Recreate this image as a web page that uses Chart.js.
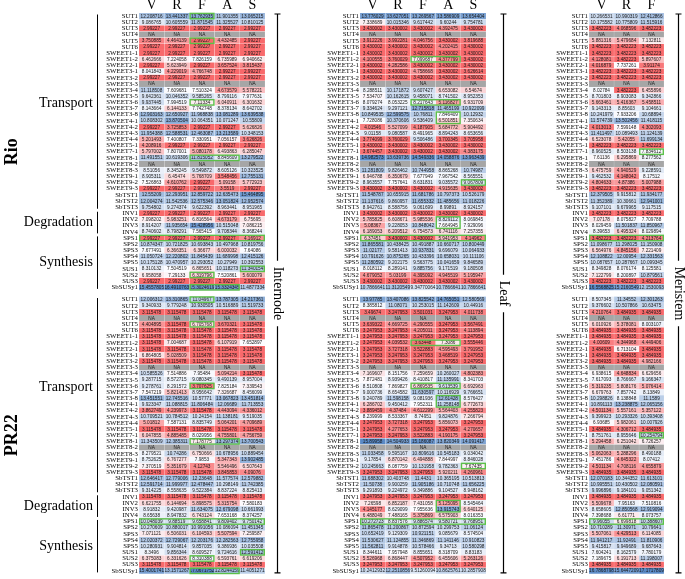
<!DOCTYPE html>
<html>
<head>
<meta charset="utf-8">
<script src="https://cdn.jsdelivr.net/npm/chart.js@4.4.0/dist/chart.umd.min.js"></script>
<style>
  body { margin: 0; background: #fff; width: 685px; height: 579px; overflow: hidden; position: relative; }
  canvas { position: absolute; top: 0; }
</style>
</head>
<body>
<canvas id="internode" width="295" height="579" style="left:0px"></canvas>
<canvas id="leaf" width="220" height="579" style="left:295px"></canvas>
<canvas id="meristem" width="170" height="579" style="left:515px"></canvas>
<script>
const genes = ["SUT1","SUT2","SUT3","SUT4","SUT5","SUT6","SWEET1-1","SWEET1-2","SWEET2-1","SWEET3-1","SWEET3-2","SWEET3-3","SWEET3-4","SWEET3-5","SWEET3-6","SWEET3-7","SWEET3-8","SWEET4-1","SWEET4-2","SWEET4-3","SWEET4-4","SWEET5-1","SWEET7-1","SWEET8-1","SWEET8-2","SWEET8-3","SWEET9-1","SWEET9-2","SWEET9-3","SbTST1","SbTST2","SbTST3","INV1","INV2","INV3","INV4","SPS1","SPS2","SPS3","SPS4","SPS5","SUS1","SUS2","SUS3","SbSUSy1"];
const cultivars = ["Rio", "PR22"];
const stages5 = ["V", "R", "F", "A", "S"];
const stages3 = ["V", "R", "F"];
const groups = [
  { name: "Transport", from: "SUT1", to: "SbTST3" },
  { name: "Degradation", from: "INV1", to: "INV4" },
  { name: "Synthesis", from: "SPS1", to: "SbSUSy1" }
];
const NA = null;

const internodeRio = [
  [12.208716,13.441337,13.762935,11.901355,13.065215],
  [9.086765,10.605559,11.871545,11.325527,10.810125],
  [2.99227,2.99227,2.99227,2.99227,2.99227],
  [NA,NA,NA,NA,NA],
  [3.750885,4.464139,2.99227,4.432485,2.99227],
  [2.99227,2.99227,2.99227,2.99227,2.99227],
  [2.99227,2.99227,2.99227,2.99227,2.99227],
  [6.462666,7.224058,7.826159,6.735989,6.940662],
  [2.99227,5.623949,2.99227,3.657524,3.815437],
  [8.041843,4.229019,4.766748,2.99227,2.99227],
  [2.99227,2.99227,2.99227,2.99227,2.99227],
  [NA,NA,NA,NA,NA],
  [11.118508,7.609681,7.510324,4.673579,5.578221],
  [9.642361,10.046352,9.585265,8.799116,7.977631],
  [9.937445,7.994519,7.11334,6.040911,6.301632],
  [8.143664,6.144133,7.742748,8.378134,8.642702],
  [12.903163,12.650927,11.968838,13.081289,13.639538],
  [10.808302,13.870504,10.064351,10.071247,10.55809],
  [2.99227,3.725853,2.99227,2.99227,5.626826],
  [11.954388,12.588531,12.463087,13.213589,10.348153],
  [5.201493,7.400807,7.330951,7.056157,3.626826],
  [4.208916,2.99227,2.99227,2.99227,2.99227],
  [5.797002,7.807001,5.080178,6.493863,6.285047],
  [11.491551,10.619306,11.815052,8.845609,13.279522],
  [NA,NA,NA,NA,NA],
  [8.51056,8.345245,9.549872,8.605126,10.323525],
  [8.905311,6.45474,5.768709,3.548456,12.755131],
  [7.526863,4.610762,2.99227,5.09158,5.772923],
  [2.99227,2.99227,2.99227,3.5519,2.99227],
  [12.55209,12.293951,12.859722,12.635473,15.464895],
  [12.004274,11.542536,12.575346,13.051824,12.952574],
  [9.754802,9.274374,9.622392,8.963441,8.951965],
  [2.99227,2.99227,2.99227,2.99227,2.99227],
  [7.098202,5.983251,6.816564,4.673179,6.75695],
  [8.914207,11.935654,15.428956,10.515048,7.086215],
  [8.740602,8.798291,7.565415,9.708344,8.368244],
  [2.99227,2.99227,2.99227,2.99227,4.16912],
  [10.874347,10.721825,10.693843,10.497968,10.819756],
  [7.677491,6.366351,6.36677,6.000032,7.64086],
  [11.050724,12.220802,11.845439,11.689998,12.415126],
  [10.175128,10.470957,10.293052,10.27949,10.392553],
  [8.310132,7.504519,6.865651,10.118273,11.340154],
  [6.958058,7.29133,6.319796,7.520861,5.600079],
  [2.99227,2.99227,2.99227,2.99227,2.99227],
  [15.4557805,16.4910763,15.3024619,15.3324345,11.4877334]
];

const internodePR22 = [
  [12.006312,13.310865,11.04967,13.787305,14.217361],
  [9.340933,9.779248,10.930505,10.516889,11.519733],
  [3.115478,3.115478,3.115478,3.115478,3.115478],
  [NA,NA,NA,NA,NA],
  [4.404895,3.115478,6.705768,3.670321,3.115478],
  [3.115478,3.115478,3.115478,3.115478,3.115478],
  [3.115478,3.115478,3.115478,3.115478,3.115478],
  [3.115478,7.004687,3.115478,6.107919,7.652897],
  [3.115478,3.115478,3.115478,3.115478,3.115478],
  [6.864805,5.028509,3.115478,3.115478,3.115478],
  [3.115478,3.115478,3.115478,3.115478,3.115478],
  [NA,NA,NA,NA,NA],
  [10.585526,7.514886,7.95484,5.094214,3.115478],
  [9.287715,8.572715,9.080345,9.490139,8.957004],
  [9.278761,8.291572,3.707625,7.825184,7.339543],
  [7.547219,5.821413,8.956642,7.326687,8.456099],
  [13.451551,12.745516,10.57771,13.067823,13.451814],
  [9.923347,11.088815,11.806484,12.06689,11.713553],
  [3.862749,4.239973,3.115478,4.443094,4.336012],
  [10.709521,10.784512,10.24154,11.138181,9.519035],
  [5.01812,7.587131,8.835749,5.064201,4.709689],
  [3.115478,3.115478,3.115478,3.115478,3.115478],
  [6.047855,4.885485,8.029956,4.755801,4.756759],
  [11.343509,12.385311,7.178775,13.297374,13.700543],
  [NA,NA,NA,NA,NA],
  [8.279521,10.74286,6.750666,10.678956,10.889454],
  [8.752625,6.767277,7.9853,5.347343,13.902485],
  [7.370519,5.351679,4.12743,5.546496,6.507643],
  [3.115478,3.115478,3.115478,3.845853,4.09076],
  [12.646417,12.779006,12.23648,11.577574,12.579882],
  [12.591714,11.999977,12.478447,10.298149,11.742385],
  [9.314225,8.558635,9.522384,8.837224,8.825413],
  [3.115478,3.115478,3.115478,3.115478,3.115478],
  [6.621755,6.144694,5.898575,5.315754,7.580183],
  [8.91832,9.420987,11.634075,12.679098,10.661993],
  [8.65638,8.947832,6.743124,7.653168,8.374257],
  [10.048039,9.88519,9.658841,9.809402,9.750142],
  [10.270609,10.880017,10.991056,10.086094,11.451345],
  [7.071121,6.506031,6.104593,5.507594,7.259587],
  [12.020372,12.729067,12.203176,12.282563,12.755958],
  [10.280931,9.904814,9.857035,9.386936,10.035508],
  [8.3496,9.856344,8.609527,9.724616,12.591412],
  [6.375083,6.331626,8.310388,6.593761,6.619206],
  [3.115478,3.115478,3.115478,3.115478,3.115478],
  [15.4001741,13.1571267,17.0671752,12.8244159,11.4051271]
];

const leafRio = [
  [13.776029,13.627051,13.269567,13.586909,13.654404],
  [7.338689,10.015346,9.617442,9.60244,9.754781],
  [3.430002,3.430002,3.430002,4.392475,3.430002],
  [NA,NA,NA,NA,NA],
  [3.912226,3.992281,4.046756,3.430002,3.819688],
  [3.430002,3.430002,3.430002,4.202415,3.430002],
  [3.430002,3.430002,3.430002,3.430002,3.430002],
  [4.100555,3.760029,7.099687,4.377799,3.430002],
  [3.430002,4.282586,3.430002,3.430002,3.430002],
  [3.430002,3.430002,4.758668,3.430002,3.626614],
  [3.430002,3.430002,3.430002,3.430002,3.430002],
  [NA,NA,NA,NA,NA],
  [8.288511,10.171872,9.607427,6.653082,6.54674],
  [7.534707,10.162615,9.458071,8.741502,8.952353],
  [8.079274,8.053225,8.217643,5.116827,6.931709],
  [9.334624,9.297121,12.715818,11.465199,10.922099],
  [10.849535,12.599575,10.76811,7.846409,10.12932],
  [7.728086,10.370606,9.536409,6.501851,7.350634],
  [4.01546,5.527099,4.187905,5.684772,5.904492],
  [9.01158,9.080587,8.491965,8.894243,8.653656],
  [3.774099,3.760029,9.506486,3.700345,3.705958],
  [3.430002,3.430002,3.430002,3.430002,3.430002],
  [3.674457,3.430002,3.430002,3.430002,4.383175],
  [14.982573,13.639736,14.549336,14.058876,13.963439],
  [NA,NA,NA,NA,NA],
  [11.281809,9.826462,10.744958,8.865268,10.74987],
  [6.946788,6.350679,7.677949,7.967542,8.565551],
  [8.963557,7.757641,8.631831,9.035572,9.067809],
  [3.430002,3.430002,3.430002,4.915635,3.430002],
  [11.548787,10.655915,11.681786,10.797373,10.526179],
  [11.137616,9.860957,11.655332,11.485656,11.018226],
  [8.942761,8.588756,9.061699,8.99891,8.924157],
  [3.430002,3.430002,3.430002,3.430002,3.430002],
  [5.785825,6.608671,5.985536,8.829112,8.069845],
  [5.08367,9.228053,10.848042,7.664945,7.929096],
  [6.189053,6.209512,6.754573,6.741116,7.257355],
  [6.37451,3.430002,3.430002,5.941953,4.14962],
  [11.865581,10.438425,10.491887,10.660717,10.800449],
  [11.02177,9.581413,10.937831,9.696079,10.064933],
  [10.791626,10.875265,10.433396,10.658031,10.111106],
  [11.280592,9.202175,9.563775,10.041659,9.846589],
  [8.018112,8.289141,9.885756,9.171519,9.180508],
  [4.679052,5.03199,4.395092,4.945519,5.195947],
  [3.430002,3.430002,3.430002,3.430002,3.430002],
  [10.7866641,11.3120549,9.34770064,10.7866641,10.7866641]
];

const leafPR22 = [
  [13.97785,13.407086,13.825542,14.765051,12.580569],
  [8.385812,11.08071,10.253015,11.142609,10.44916],
  [3.49674,3.247953,3.501031,3.247953,4.011738],
  [NA,NA,NA,NA,NA],
  [3.639322,4.669725,4.290555,3.247953,3.567491],
  [3.247953,3.247953,4.205011,3.247953,4.113894],
  [3.247953,3.247953,3.247953,3.247953,3.247953],
  [3.247953,4.039532,3.63448,7.3086,3.555446],
  [3.247953,3.727318,3.522883,4.595493,3.791952],
  [3.247953,3.247953,3.247953,3.468519,3.247953],
  [3.247953,3.247953,3.247953,3.247953,3.247953],
  [NA,NA,NA,NA,NA],
  [7.169607,8.151756,7.259659,10.260027,4.802383],
  [7.872481,8.939426,8.410817,11.135991,8.341703],
  [8.510808,7.869827,6.869535,9.613539,6.692963],
  [9.000736,8.654582,11.630597,10.116929,9.766651],
  [9.240789,11.598158,9.081936,12.61428,8.576427],
  [6.286702,9.450412,7.952311,11.258148,6.772673],
  [3.889459,4.37484,4.612299,5.564403,4.255823],
  [8.239999,8.533367,8.74951,9.824876,7.266794],
  [3.247953,3.727318,3.247953,5.856073,3.247953],
  [3.247953,4.277653,3.247953,3.247953,4.270657],
  [3.247953,3.247953,3.522883,4.190175,3.247953],
  [15.89958,14.504933,15.186087,13.820349,14.091417],
  [NA,NA,NA,NA,NA],
  [11.033458,9.595167,10.809616,10.545183,9.034042],
  [9.17854,6.870142,6.494888,7.844997,8.846028],
  [10.245663,8.087759,10.131958,9.782363,7.67435],
  [3.247953,3.247953,3.247953,5.920211,4.260961],
  [11.688302,10.403748,11.4431,10.365195,10.513813],
  [11.50738,9.900259,11.905186,10.710748,11.656225],
  [9.291893,9.224972,9.349886,9.104527,8.948162],
  [3.247953,3.247953,3.247953,3.247953,3.247953],
  [7.26598,6.852187,7.431058,5.125095,8.545464],
  [4.145177,8.629099,7.955636,13.915743,6.640125],
  [6.488049,7.488165,5.375869,6.575903,8.016353],
  [10.272723,8.837576,9.886574,9.580721,9.768951],
  [11.865478,11.200867,10.872594,10.299753,11.06124],
  [10.652419,9.129309,10.921151,9.085679,8.574504],
  [11.530627,11.124855,11.346869,11.141146,10.910823],
  [11.562811,9.914878,10.578466,9.34713,10.580298],
  [8.344611,7.957948,8.855651,8.318709,8.83183],
  [5.526968,6.868447,4.507952,6.455606,5.263126],
  [3.247953,3.247953,3.247953,3.247953,3.247953],
  [10.2412932,12.2510856,9.51260094,10.8625761,10.2857908]
];

const meristemRio = [
  [10.266531,10.990319,12.412866],
  [10.175582,10.775809,11.515916],
  [3.482223,4.068596,3.482223],
  [NA,NA,NA],
  [5.881316,5.479684,7.132811],
  [3.482223,3.482223,3.482223],
  [3.482223,3.482223,3.482223],
  [4.128081,3.482223,5.897607],
  [4.016879,7.737261,3.91174],
  [3.482223,3.482223,3.482223],
  [3.482223,3.482223,3.482223],
  [NA,NA,NA],
  [8.02784,3.482223,6.455896],
  [8.701803,8.903083,9.342866],
  [5.663461,5.416367,5.458511],
  [9.143313,8.85603,9.104661],
  [10.241979,7.933206,10.68894],
  [11.574739,13.502456,11.418115],
  [4.013013,7.599148,4.302093],
  [11.411497,10.089493,11.124139],
  [6.523078,5.42055,11.699134],
  [3.482223,3.482223,3.482223],
  [8.960525,8.503138,7.834612],
  [7.61136,6.295869,8.277562],
  [NA,NA,NA],
  [6.475759,4.940529,9.228591],
  [9.462532,4.148042,8.17512],
  [4.804633,4.87386,5.007988],
  [3.482223,3.482223,3.482223],
  [12.379505,9.915812,11.934177],
  [11.352389,10.30661,12.941001],
  [9.107101,9.679965,9.117515],
  [3.482223,3.482223,3.482223],
  [7.07178,8.075827,7.709788],
  [8.029459,11.501837,11.850967],
  [8.39653,6.495324,8.029894],
  [3.482223,3.482223,4.213764],
  [11.098677,11.298025,11.150908],
  [6.564976,4.845156,7.221409],
  [12.108822,12.00954,12.331563],
  [10.087657,10.287667,10.099345],
  [8.349828,8.076174,8.125581],
  [7.122799,8.200897,10.879561],
  [3.482223,3.482223,3.482223],
  [16.5568825,15.2160549,12.1530093]
];

const meristemPR22 = [
  [8.507345,11.34552,12.301263],
  [9.376602,10.507866,10.63475],
  [4.210764,3.484935,3.484935],
  [NA,NA,NA],
  [6.010926,5.378081,8.003107],
  [3.484935,3.484935,3.484935],
  [3.484935,3.484935,3.484935],
  [4.00609,4.344968,4.449406],
  [3.484935,6.713104,3.484935],
  [3.484935,3.484935,3.484935],
  [3.484935,3.484935,4.982166],
  [NA,NA,NA],
  [6.938615,4.648834,6.629656],
  [7.617093,8.766667,9.166347],
  [5.319235,5.808176,5.076414],
  [6.679763,7.857742,8.13849],
  [10.298826,8.138848,11.1589],
  [10.891113,13.238875,12.065156],
  [4.501134,5.557161,5.357122],
  [9.399923,10.293326,10.393408],
  [6.93685,5.982061,10.007926],
  [3.484935,4.306712,3.484935],
  [8.751761,8.955646,10.254794],
  [5.294458,6.251042,6.726257],
  [NA,NA,NA],
  [5.062063,5.288296,8.490188],
  [7.451786,4.645322,8.07412],
  [4.501134,4.708116,4.655879],
  [3.484935,3.484935,3.484935],
  [12.070183,10.344352,11.613101],
  [10.995551,10.430502,12.080591],
  [9.996896,9.184101,9.051342],
  [3.484935,3.484935,3.484935],
  [5.509678,7.95163,7.510816],
  [8.658605,12.850568,12.919094],
  [7.398688,6.61771,8.073757],
  [9.96055,6.699818,10.388607],
  [10.710289,11.30971,10.79641],
  [5.507061,4.429513,6.114085],
  [11.941217,11.92491,11.810906],
  [9.415817,9.949689,9.687643],
  [7.604241,8.162579,7.780179],
  [7.189675,6.191713,11.198007],
  [3.484935,3.484935,3.484935],
  [16.7868798,15.6447209,17.1717809]
];

// cells outlined in green: [first gene, last gene, first stage, last stage]
const internodeBoxes = [["SUT1","SUT1","F","F"],["SUT5","SUT5","F","F"],["SWEET3-6","SWEET3-6","F","F"],["SWEET8-1","SWEET8-1","F","A"],["SPS1","SPS1","V","S"],["SUS1","SUS1","S","S"],["SUS2","SUS2","F","F"],["SbSUSy1","SbSUSy1","F","A"]];
const leafBoxes = [["SWEET1-2","SWEET1-2","F","A"],["SWEET3-6","SWEET3-6","F","A"],["SWEET3-8","SWEET4-1","A","A"],["SWEET9-2","SWEET9-2","S","S"],["INV2","INV3","A","A"],["SPS1","SPS1","V","S"]];
const meristemBoxes = [["SWEET7-1","SWEET7-1","F","F"],["SPS1","SPS1","V","F"]];

const LOW = [248, 105, 107], MID = [252, 252, 255], HIGH = [90, 138, 198];
const naColor = "#a6a6a6";
// the Transport label sits a little above the middle of its bracket
const labelNudge = { Transport: -8, Degradation: 0, Synthesis: 0 };

function mix(a, b, t) {
  return "rgb(" + a.map((v, i) => Math.round(v + (b[i] - v) * t)).join(",") + ")";
}

function colorScale(block) {
  const vals = block.flat().filter(v => v !== null).sort((a, b) => a - b);
  const min = vals[0], max = vals[vals.length - 1];
  const pos = (vals.length - 1) * 0.5;
  const mid = vals[Math.floor(pos)] + (vals[Math.ceil(pos)] - vals[Math.floor(pos)]) * (pos - Math.floor(pos));
  return v => {
    if (v === null) return naColor;
    if (v <= mid) return mix(LOW, MID, (v - min) / (mid - min));
    return mix(MID, HIGH, (v - mid) / (max - mid));
  };
}

const rowLabels = [...genes, "", ...genes];

const cellText = {
  id: "cellText",
  afterDatasetsDraw(chart, args, opts) {
    const ctx = chart.ctx, xs = chart.scales.x, ys = chart.scales.y;
    ctx.save();
    ctx.font = '4.7px "Liberation Sans"';
    ctx.textAlign = "center";
    ctx.textBaseline = "middle";
    ctx.fillStyle = "#1a1a1a";
    opts.rows.forEach((row, r) => {
      if (!row) return;
      row.forEach((v, c) => {
        const x = (xs.getPixelForValue(c) + xs.getPixelForValue(c + 1)) / 2;
        ctx.fillText(v === null ? "NA" : String(v), x, ys.getPixelForValue(r) + 0.3);
      });
    });
    // green outlines
    const half = (ys.getPixelForValue(1) - ys.getPixelForValue(0)) / 2;
    ctx.strokeStyle = "#5cc04a";
    ctx.lineWidth = 1.4;
    [0, genes.length + 1].forEach(off => {
      opts.boxes.forEach(b => {
        const top = ys.getPixelForValue(genes.indexOf(b[0]) + off) - half;
        const bot = ys.getPixelForValue(genes.indexOf(b[1]) + off) + half;
        const left = xs.getPixelForValue(opts.cols.indexOf(b[2]));
        const right = xs.getPixelForValue(opts.cols.indexOf(b[3]) + 1);
        ctx.strokeRect(left + 0.7, top + 0.4, right - left - 1.4, bot - top - 0.8);
      });
    });
    // panel bracket + name on the right
    const a = chart.chartArea;
    const lx = Math.round(a.right + opts.offset) + 0.5;
    const my = (a.top + a.bottom) / 2;
    ctx.font = '14px "Liberation Serif"';
    const tw = ctx.measureText(opts.panel).width;
    ctx.strokeStyle = "#000";
    ctx.lineWidth = 1.2;
    ctx.beginPath();
    ctx.moveTo(lx - 3, a.top + 1); ctx.lineTo(lx + 3, a.top + 1);
    ctx.moveTo(lx, a.top + 1); ctx.lineTo(lx, my - tw / 2 - 6);
    ctx.moveTo(lx, my + tw / 2 + 6); ctx.lineTo(lx, a.bottom - 1);
    ctx.moveTo(lx - 3, a.bottom - 1); ctx.lineTo(lx + 3, a.bottom - 1);
    ctx.stroke();
    ctx.save();
    ctx.translate(lx, my);
    ctx.rotate(Math.PI / 2);
    ctx.fillStyle = "#000";
    ctx.fillText(opts.panel, 0, 0);
    ctx.restore();
    ctx.restore();
  }
};

const leftNotes = {
  id: "leftNotes",
  afterDraw(chart) {
    const ctx = chart.ctx, ys = chart.scales.y;
    const half = (ys.getPixelForValue(1) - ys.getPixelForValue(0)) / 2;
    ctx.save();
    ctx.strokeStyle = "#000";
    ctx.fillStyle = "#000";
    ctx.lineWidth = 1;
    cultivars.forEach((name, k) => {
      const off = k * (genes.length + 1);
      groups.forEach(g => {
        const top = ys.getPixelForValue(genes.indexOf(g.from) + off) - half + 1.5;
        const bot = ys.getPixelForValue(genes.indexOf(g.to) + off) + half - 1.5;
        ctx.beginPath();
        ctx.moveTo(97.5, top); ctx.lineTo(97.5, bot);
        ctx.stroke();
        ctx.font = '14px "Liberation Serif"';
        ctx.textAlign = "right";
        ctx.textBaseline = "middle";
        ctx.fillText(g.name, 93, (top + bot) / 2 + labelNudge[g.name]);
      });
      const t = ys.getPixelForValue(off) - half;
      const b = ys.getPixelForValue(off + genes.length - 1) + half;
      ctx.save();
      ctx.translate(12, (t + b) / 2);
      ctx.rotate(-Math.PI / 2);
      ctx.font = 'bold 18px "Liberation Serif"';
      ctx.textAlign = "center";
      ctx.textBaseline = "middle";
      ctx.fillText(name, 0, 0);
      ctx.restore();
    });
    ctx.restore();
  }
};

function makePanel(id, panel, cols, rio, pr22, boxes, axisWidth, padRight, offset, extra) {
  const rows = [...rio, null, ...pr22];
  const cRio = colorScale(rio), cPR = colorScale(pr22);
  const datasets = cols.map((c, ci) => ({
    label: c,
    data: rows.map(r => (r ? 1 : null)),
    backgroundColor: rows.map((r, ri) => (r ? (ri < genes.length ? cRio(r[ci]) : cPR(r[ci])) : "rgba(0,0,0,0)")),
    borderColor: "rgba(255,255,255,0.5)",
    borderWidth: 0.4,
    borderSkipped: false,
    barPercentage: 1,
    categoryPercentage: 1
  }));
  return new Chart(document.getElementById(id), {
    type: "bar",
    data: { labels: rowLabels, datasets },
    options: {
      indexAxis: "y",
      responsive: false,
      animation: false,
      layout: { padding: { top: 0, bottom: 2, left: 0, right: padRight } },
      plugins: {
        legend: { display: false },
        tooltip: { enabled: false },
        cellText: { rows, cols, boxes, panel, offset }
      },
      scales: {
        x: { stacked: true, min: 0, max: cols.length, display: false },
        top: {
          type: "category",
          labels: cols,
          position: "top",
          offset: true,
          grid: { display: false, drawTicks: false },
          border: { display: false },
          ticks: { color: "#000", padding: 1, font: { family: "Liberation Serif", size: 14, lineHeight: 1 } },
          afterFit: s => { s.height = 13; }
        },
        y: {
          stacked: true,
          grid: { display: false, drawTicks: false },
          border: { display: false },
          ticks: { autoSkip: false, color: "#000", padding: 1, font: { family: "Liberation Serif", size: 6.8 } },
          afterFit: s => { s.width = axisWidth; }
        }
      }
    },
    plugins: extra ? [cellText, extra] : [cellText]
  });
}

makePanel("internode", "Internode", stages5, internodeRio, internodePR22, internodeBoxes, 139, 30, 12, leftNotes);
makePanel("leaf", "Leaf", stages5, leafRio, leafPR22, leafBoxes, 65, 29, 17);
makePanel("meristem", "Meristem", stages3, meristemRio, meristemPR22, meristemBoxes, 74, 21, 14);
</script>
</body>
</html>
